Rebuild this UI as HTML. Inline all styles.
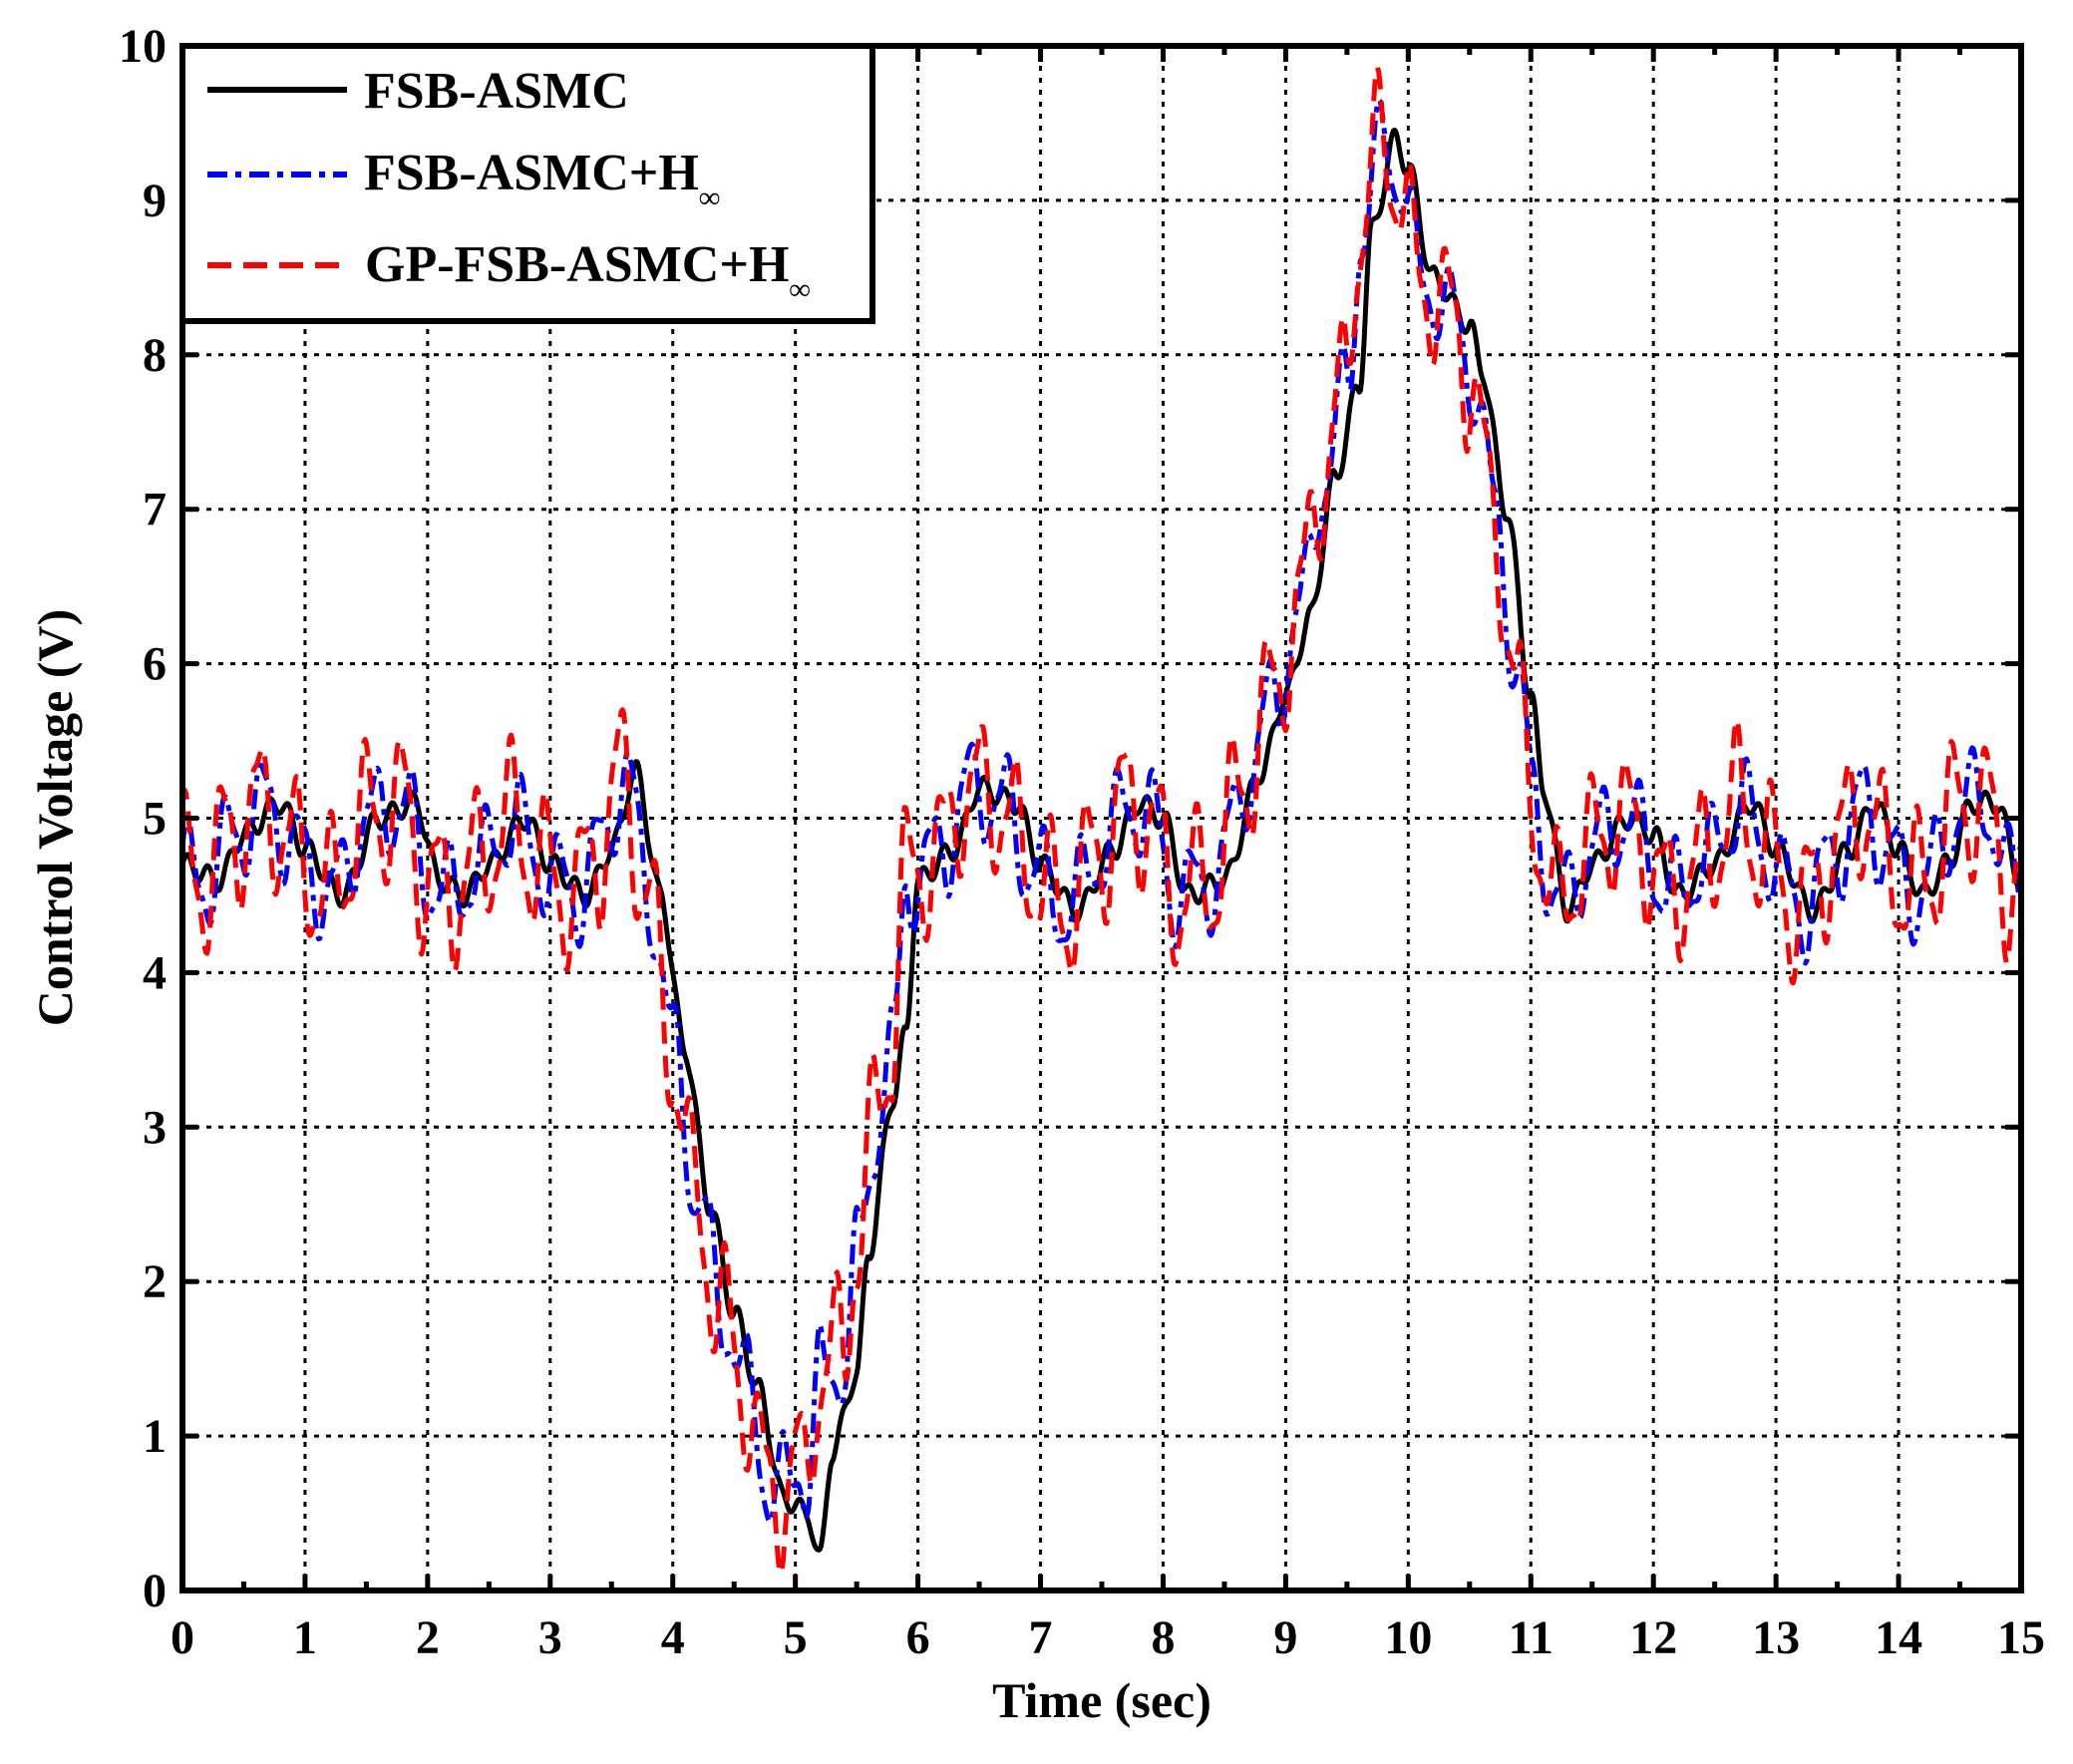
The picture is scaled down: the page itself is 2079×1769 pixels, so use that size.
<!DOCTYPE html>
<html><head><meta charset="utf-8"><style>
html,body{margin:0;padding:0;background:#fff;}
svg text{font-family:"Liberation Serif",serif;font-weight:bold;fill:#000;}
</style></head><body>
<svg id="s" width="2079" height="1764" viewBox="0 0 2079 1764" xmlns="http://www.w3.org/2000/svg">
<rect width="2079" height="1764" fill="#fff"/>
<g id="grid" stroke="#000" stroke-width="3" stroke-dasharray="5,7"></g>
<g id="series" fill="none" stroke-width="5" stroke-linejoin="round"></g>
<g id="ticks" stroke="#000" stroke-width="5"></g>
<rect x="183" y="46" width="1844" height="1549" fill="none" stroke="#000" stroke-width="6"/>
<g id="labels" font-size="48"></g>
<text x="1105" y="1722" font-size="50" text-anchor="middle">Time (sec)</text>
<text transform="translate(72,820) rotate(-90)" font-size="50" text-anchor="middle">Control Voltage (V)</text>
<rect x="183" y="46" width="692" height="276" fill="#fff" stroke="#000" stroke-width="6"/>
<line x1="208" y1="90" x2="348" y2="90" stroke="#000" stroke-width="6"/>
<line x1="208" y1="175" x2="348" y2="175" stroke="#0000ff" stroke-width="6" stroke-dasharray="20,8,6,8"/>
<line x1="208" y1="266" x2="348" y2="266" stroke="#ff0000" stroke-width="6" stroke-dasharray="24,12"/>
<text x="365" y="108" font-size="52">FSB-ASMC</text>
<text x="365" y="190" font-size="52">FSB-ASMC+H<tspan font-size="30" dy="18">∞</tspan></text>
<text x="366" y="282" font-size="52">GP-FSB-ASMC+H<tspan font-size="30" dy="18">∞</tspan></text>
</svg>
<script>
var X0=183,X1=2027,Y0=1595,Y1=46;
function px(t){return X0+(X1-X0)*t/15;}
function py(v){return Y0+(Y1-Y0)*v/10;}
var NS="http://www.w3.org/2000/svg";
function el(p,tag,a,txt){var e=document.createElementNS(NS,tag);for(var k in a)e.setAttribute(k,a[k]);if(txt!=null)e.textContent=txt;document.getElementById(p).appendChild(e);return e;}
for(var i=1;i<15;i++)el("grid","line",{x1:px(i),y1:Y0,x2:px(i),y2:Y1});
for(var j=1;j<10;j++)el("grid","line",{x1:X0,y1:py(j),x2:X1,y2:py(j)});
for(var i=0;i<=15;i++){el("labels","text",{x:px(i),y:1658,"text-anchor":"middle"},i);}
for(var j=0;j<=10;j++){el("labels","text",{x:167,y:py(j)+16,"text-anchor":"end"},j);}
for(var i=0;i<=30;i++){var L=(i%2==0)?16:9;el("ticks","line",{x1:px(i/2),y1:Y0,x2:px(i/2),y2:Y0-L});el("ticks","line",{x1:px(i/2),y1:Y1,x2:px(i/2),y2:Y1+L});}
for(var j=0;j<=10;j++){el("ticks","line",{x1:X0,y1:py(j),x2:X0+16,y2:py(j)});el("ticks","line",{x1:X1,y1:py(j),x2:X1-16,y2:py(j)});}
var K=[[0,4.7],[0.3,4.6],[0.5,4.9],[0.8,5.1],[1.0,4.8],[1.3,4.5],[1.6,5.0],[1.9,5.1],[2.1,4.6],[2.3,4.5],[2.5,4.7],[2.8,5.0],[3.0,4.7],[3.3,4.5],[3.5,4.8],[3.7,5.3],[3.9,4.5],[4.1,3.5],[4.3,2.5],[4.5,1.8],[4.7,1.3],[4.9,0.6],[5.1,0.5],[5.2,0.2],[5.3,0.9],[5.5,1.4],[5.6,2.2],[5.8,3.2],[5.9,3.6],[6.0,4.6],[6.3,4.8],[6.5,5.2],[6.8,5.1],[7.0,4.7],[7.3,4.4],[7.6,4.8],[7.8,5.1],[8.0,5.0],[8.2,4.5],[8.5,4.6],[8.8,5.3],[9.0,5.8],[9.2,6.3],[9.4,7.2],[9.6,7.8],[9.7,8.8],[9.9,9.4],[10.0,9.2],[10.2,8.5],[10.5,8.2],[10.6,7.9],[10.8,7.0],[11.0,5.8],[11.1,5.2],[11.3,4.4],[11.5,4.7],[11.8,5.0],[12.0,4.9],[12.2,4.5],[12.5,4.7],[12.8,5.1],[13.0,4.8],[13.3,4.4],[13.6,4.8],[13.8,5.1],[14.0,4.8],[14.2,4.5],[14.4,4.7],[14.6,5.1],[14.8,5.1],[15,4.6]];
function base(t){if(t<=0)return K[0][1];if(t>=15)return K[K.length-1][1];for(var i=1;i<K.length;i++){if(t<=K[i][0]){var a=K[i-1],b=K[i],f=(t-a[0])/(b[0]-a[0]);f=f*f*(3-2*f);return a[1]+(b[1]-a[1])*f;}}}
function bump(t){var d=(t-5.15)/0.2;return 0.55*Math.exp(-d*d);}
function series(fn,color,dash){var pts=[];for(var t=0;t<=15.0001;t+=0.01){var v=Math.max(0,Math.min(10,fn(t)));pts.push(px(t).toFixed(1)+","+py(v).toFixed(1));}
var a={points:pts.join(" "),stroke:color};if(dash)a["stroke-dasharray"]=dash;el("series","polyline",a);}
series(function(t){return base(t)+0.07*Math.sin(2*Math.PI*6*t);},"#000",null);
series(function(t){return base(t+0.09)+bump(t)+0.28*Math.sin(2*Math.PI*3.3*t+0.5)+0.08*Math.sin(2*Math.PI*7*t);},"#0000ff","20,8,6,8");
series(function(t){return base(t+0.11)+bump(t)+0.42*Math.sin(2*Math.PI*3.4*t+0.9)+0.12*Math.sin(2*Math.PI*7.5*t+1);},"#ff0000","22,12");
</script>
</body></html>
